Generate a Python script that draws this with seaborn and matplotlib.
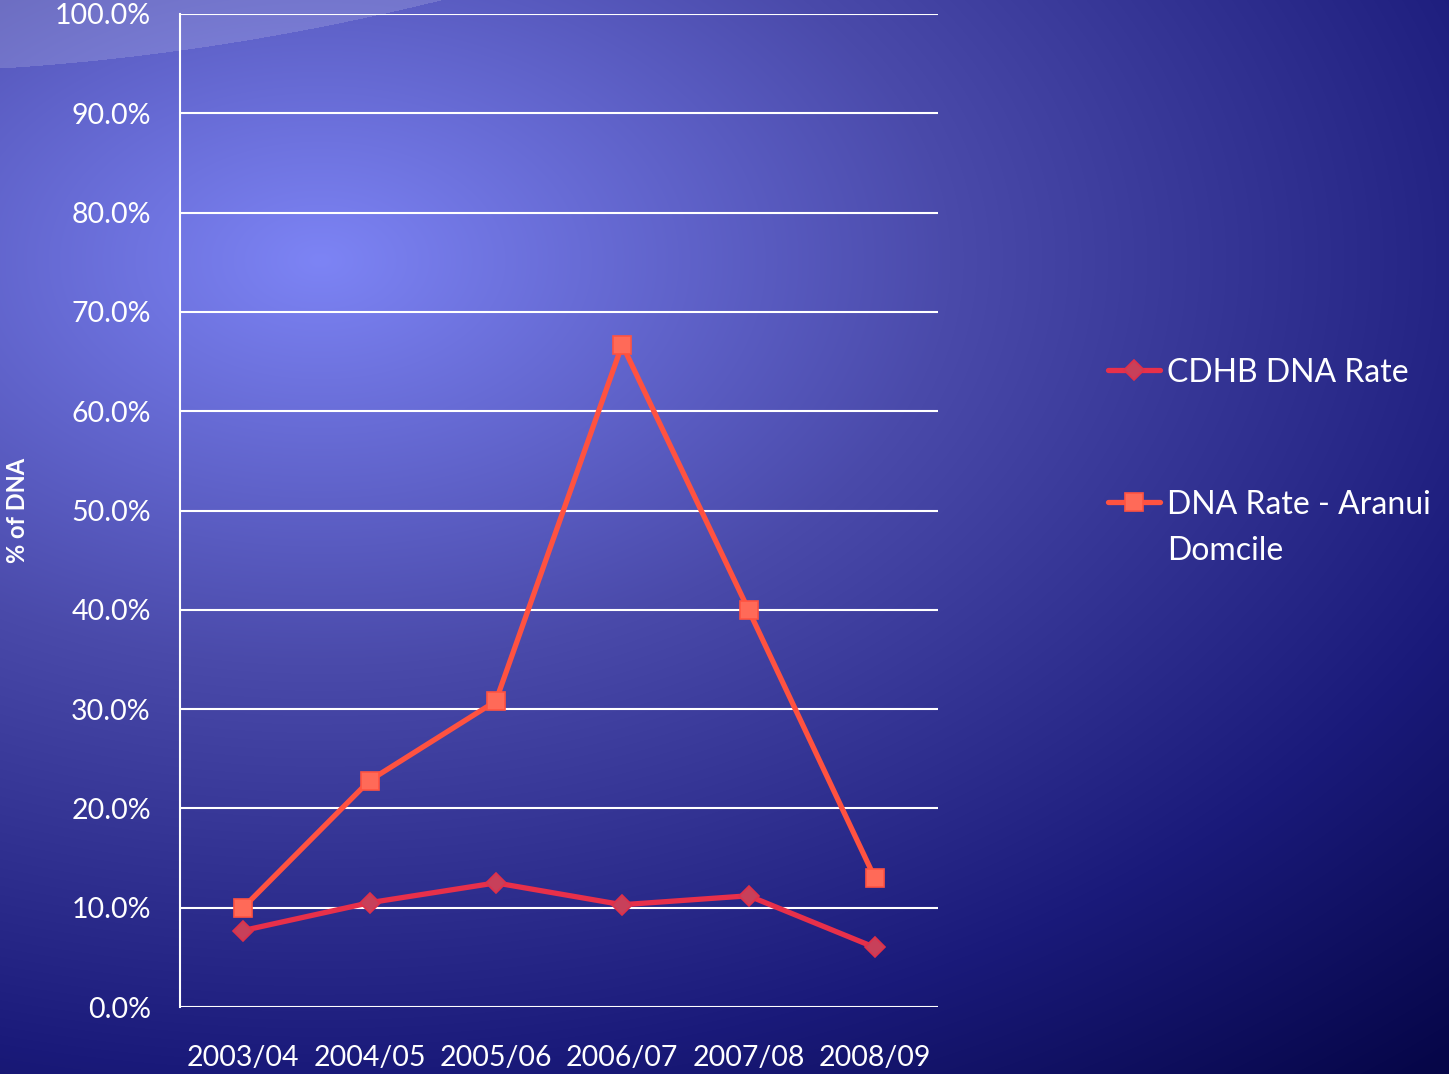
import numpy as np
import pandas as pd
import matplotlib
matplotlib.use('Agg')
import matplotlib.pyplot as plt
from matplotlib.lines import Line2D
import seaborn as sns

# chart values
years = ['2003/04', '2004/05', '2005/06', '2006/07', '2007/08', '2008/09']
cdhb_rate = [7.7, 10.5, 12.5, 10.3, 11.2, 6.0]
aranui_rate = [10.0, 22.8, 30.8, 66.7, 40.0, 13.0]
y_ticks = [0, 10, 20, 30, 40, 50, 60, 70, 80, 90, 100]
series_names = ['CDHB DNA Rate', 'DNA Rate - Aranui\nDomcile']

sns.set_style('white')
plt.rcParams['font.family'] = ['Lato', 'DejaVu Sans']

W, H = 1449, 1074
fig = plt.figure(figsize=(W / 100, H / 100), dpi=100)

# gradient background (slide style)
bg = fig.add_axes([0, 0, 1, 1], zorder=-10)
yy, xx = np.mgrid[0:H, 0:W]
d = np.sqrt(((xx - 320) / 1400.0) ** 2 + ((yy - 260) / 900.0) ** 2)
stops = [0, 0.45, 0.9, 1.2]
cols = np.array([[125, 132, 245], [74, 74, 170], [26, 26, 122], [6, 6, 72]]) / 255.0
img = np.stack([np.interp(d, stops, cols[:, k]) for k in range(3)], axis=-1)
# light arc in the top-left corner
arc = 68 - 0.062 * xx - 0.00021 * xx ** 2
mask = (yy < arc)[..., None]
img = np.where(mask, img * 0.85 + 0.15, img)
bg.imshow(np.clip(img, 0, 1), aspect='auto', extent=[0, 1, 0, 1])
bg.set_axis_off()

ax = fig.add_axes([180 / W, 1 - 1007 / H, 758 / W, 993 / H])
ax.patch.set_alpha(0)

df = pd.DataFrame({'year': years, 'cdhb': cdhb_rate, 'aranui': aranui_rate})
x = np.arange(len(years))
styles = [dict(color='#e8304a', marker='D', markersize=10, markerfacecolor='#c8405a',
               markeredgecolor='#e03048'),
          dict(color='#ff5240', marker='s', markersize=13, markerfacecolor='#ff6a58',
               markeredgecolor='#ff5240')]
sns.lineplot(x=x, y=df['cdhb'], ax=ax, lw=3.8, markeredgewidth=1.2, zorder=4, **styles[0])
sns.lineplot(x=x, y=df['aranui'], ax=ax, lw=3.8, markeredgewidth=1.2, zorder=3, **styles[1])

ax.set_xlim(-0.5, len(years) - 0.5)
ax.set_ylim(0, 100)
ax.set_xticks(x)
ax.set_xticklabels(years)
ax.set_yticks(y_ticks)
ax.set_yticklabels([f'{v:.1f}%' for v in y_ticks])
ax.tick_params(axis='both', length=0, colors='white', labelsize=20.5)
ax.tick_params(axis='y', pad=21)
ax.tick_params(axis='x', pad=27)
for v in y_ticks:
    ax.axhline(v, color='white', lw=1.5, zorder=1)
for s in ['top', 'right', 'bottom']:
    ax.spines[s].set_visible(False)
ax.spines['left'].set_color('white')
ax.spines['left'].set_linewidth(1.5)
ax.set_xlabel('')
ax.set_ylabel('% of DNA', color='white', fontsize=17, fontweight='bold')
ax.yaxis.set_label_coords(-(180 - 29) / 758, (1007 - 510) / 993)

# legend drawn at figure level
leg_y = [370, 502]
for name, st, yp in zip(series_names, styles, leg_y):
    fy = 1 - yp / H
    fig.add_artist(Line2D([1108 / W, 1160 / W], [fy, fy], transform=fig.transFigure,
                          lw=3.8, color=st['color']))
    fig.add_artist(Line2D([1134 / W], [fy], transform=fig.transFigure, lw=0,
                          marker=st['marker'], markersize=st['markersize'],
                          markerfacecolor=st['markerfacecolor'],
                          markeredgecolor=st['markeredgecolor'], markeredgewidth=1.2))
    fig.text(1167 / W, 1 - (yp - 12) / H, name, color='white', fontsize=23,
             ha='left', va='top', linespacing=1.68)

fig.savefig('out.png', dpi=100)
